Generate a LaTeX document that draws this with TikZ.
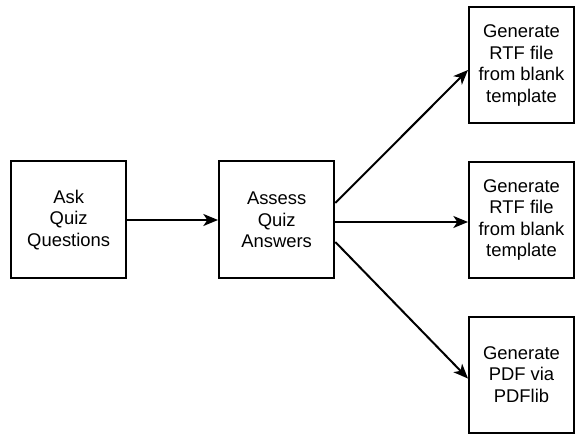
\documentclass[tikz,border=0pt]{standalone}
\usepackage{fontspec}
\setmainfont{Liberation Sans}
\usetikzlibrary{positioning,arrows.meta}

\tikzset{
  procbox/.style={draw, line width=1.5pt, align=center, inner sep=0pt,
    font=\fontsize{13.8}{16.2}\selectfont},
  leftbox/.style={procbox, minimum width=86.5pt, minimum height=87.75pt},
  outbox/.style={procbox, minimum width=78.75pt, minimum height=87pt},
  flow/.style={line width=1.5pt, -{Stealth[length=11pt,width=9pt,inset=3pt]}}
}

\begin{document}
\begin{tikzpicture}
 \useasboundingbox (0,0) rectangle (432pt,-325.5pt);
 % input and checking
 \node[leftbox] (ask) at (51.5pt,-165pt) {Ask\\Quiz\\Questions};
 \node[leftbox, right=68pt of ask] (assess) {Assess\\Quiz\\Answers};
 % outputs
 \node[outbox, right=99.5pt of assess] (rtfB) {Generate\\RTF file\\from blank\\template};
 \node[outbox, above=27.4pt of rtfB] (rtfA) {Generate\\RTF file\\from blank\\template};
 \node[outbox, below=27.4pt of rtfB] (pdf) {Generate\\PDF via\\PDFlib};
 \draw[flow] (ask) -- (assess);
 \draw[flow] ([yshift=12.75pt]assess.east) -- ([yshift=-3.4pt]rtfA.west);
 \draw[flow] ([yshift=-1.5pt]assess.east) -- ([yshift=-1.5pt]rtfB.west);
 \draw[flow] ([yshift=-16.5pt]assess.east) -- ([yshift=-3pt]pdf.west);
\end{tikzpicture}
\end{document}
